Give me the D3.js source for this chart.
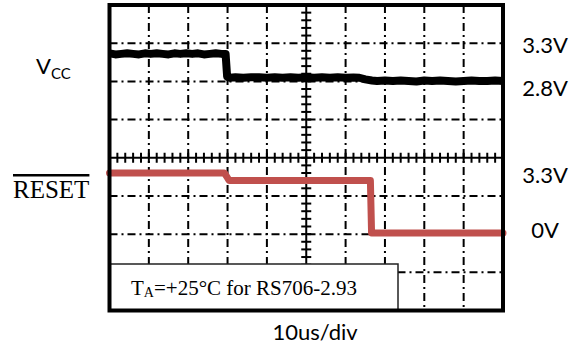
<!DOCTYPE html>
<html>
<head>
<meta charset="utf-8">
<script src="https://cdn.jsdelivr.net/npm/d3@7"></script>
<style>
  body { margin: 0; background: #fff; }
  svg { display: block; }
</style>
</head>
<body>
<svg id="chart" width="579" height="349"></svg>
<script>
// time base: 10 divisions of 10us
const timeTicks = [0, 10, 20, 30, 40, 50, 60, 70, 80, 90, 100];
const divTicks = [0, 1, 2, 3, 4, 5, 6, 7, 8];

// Vcc trace (us, V)
const vccTime = [0, 1.5, 3, 4.5, 6, 7.5, 9, 10.5, 12, 13.5, 15, 16.5, 18, 19.5, 21, 22.5, 24, 25.5, 27, 28.5, 29.5,
  29.9, 30.6, 32, 34, 36, 38, 40, 42, 44, 46, 48, 50, 52, 54, 56, 58, 60, 62, 63.5, 65, 66.7,
  68, 70, 72, 74, 76, 78, 80, 82, 84, 86, 88, 90, 92, 94, 96, 98, 100];
const vccVolts = [3.31, 3.29, 3.30, 3.31, 3.30, 3.29, 3.31, 3.30, 3.31, 3.30, 3.29, 3.31, 3.30, 3.31, 3.30, 3.31, 3.29, 3.30, 3.31, 3.30, 3.30,
  2.88, 2.86, 2.87, 2.86, 2.87, 2.87, 2.86, 2.87, 2.86, 2.87, 2.86, 2.87, 2.86, 2.87, 2.86, 2.87, 2.86, 2.865, 2.86, 2.83, 2.81,
  2.80, 2.81, 2.80, 2.81, 2.80, 2.79, 2.81, 2.80, 2.81, 2.80, 2.79, 2.80, 2.81, 2.80, 2.80, 2.81, 2.80];

// RESET trace (us, V)
const resetTime = [0, 29.2, 29.8, 30.4, 66.3, 66.6, 100];
const resetVolts = [3.30, 3.30, 3.10, 2.89, 2.89, 0.0, 0.0];

const vccLevels = ['3.3V', '2.8V'];
const vccLevelValues = [3.3, 2.8];
const resetLevels = ['3.3V', '0V'];
const resetLevelValues = [3.3, 0];

const svg = d3.select('#chart');
const pLeft = 109.5, pRight = 503, pTop = 5, pBottom = 310.5;

const x = d3.scaleLinear().domain([0, 100]).range([pLeft, pRight]);
const gy = d3.scaleLinear().domain([0, 8]).range([pBottom, pTop]);
// channel scales (volts -> px)
const yVcc = d3.scaleLinear().domain([2.8, 3.3]).range([gy(6.01), gy(6.72)]);
const yReset = d3.scaleLinear().domain([0, 3.3]).range([gy(2.03), gy(3.6)]);

const grid = svg.append('g').attr('class', 'grid');
const dash = '8,4,2,4';

grid.selectAll('line.v')
  .data(timeTicks.filter(t => t > 0 && t < 100 && t !== 50))
  .join('line')
  .attr('x1', d => x(d)).attr('x2', d => x(d))
  .attr('y1', pTop).attr('y2', pBottom)
  .attr('stroke', '#000').attr('stroke-width', 2)
  .attr('stroke-dasharray', dash);

grid.selectAll('line.h')
  .data(divTicks.filter(d => d > 0 && d < 8 && d !== 4))
  .join('line')
  .attr('x1', pLeft).attr('x2', pRight)
  .attr('y1', d => gy(d)).attr('y2', d => gy(d))
  .attr('stroke', '#000').attr('stroke-width', 2)
  .attr('stroke-dasharray', dash);

// center axes with minor ticks
const cx = x(50), cy = gy(4);
grid.append('line')
  .attr('x1', pLeft).attr('x2', pRight).attr('y1', cy).attr('y2', cy)
  .attr('stroke', '#000').attr('stroke-width', 2);
grid.append('line')
  .attr('x1', cx).attr('x2', cx).attr('y1', pTop).attr('y2', pBottom)
  .attr('stroke', '#000').attr('stroke-width', 2);

grid.selectAll('line.tx')
  .data(d3.range(2, 100, 2))
  .join('line')
  .attr('x1', d => x(d)).attr('x2', d => x(d))
  .attr('y1', cy - 5).attr('y2', cy + 5)
  .attr('stroke', '#000').attr('stroke-width', 2);

grid.selectAll('line.ty')
  .data(d3.range(0.2, 8, 0.2))
  .join('line')
  .attr('x1', cx - 5).attr('x2', cx + 5)
  .attr('y1', d => gy(d)).attr('y2', d => gy(d))
  .attr('stroke', '#000').attr('stroke-width', 2);

// traces
const vccData = vccTime.map((t, i) => ({ t: t, v: vccVolts[i] }));
const resetData = resetTime.map((t, i) => ({ t: t, v: resetVolts[i] }));

svg.append('path')
  .datum(vccData)
  .attr('fill', 'none')
  .attr('stroke', '#000')
  .attr('stroke-width', 8)
  .attr('stroke-linejoin', 'round')
  .attr('d', d3.line().x(d => x(d.t)).y(d => yVcc(d.v)));

svg.append('path')
  .datum(resetData)
  .attr('fill', 'none')
  .attr('stroke', '#C0504D')
  .attr('stroke-width', 7)
  .attr('stroke-linejoin', 'round')
  .attr('stroke-linecap', 'round')
  .attr('d', d3.line().x(d => x(d.t)).y(d => yReset(d.v)));

// condition box
const box = svg.append('g');
box.append('rect')
  .attr('x', pLeft).attr('y', 264)
  .attr('width', 398 - pLeft).attr('height', pBottom - 264)
  .attr('fill', '#fff').attr('stroke', '#222').attr('stroke-width', 1.5);
const boxText = box.append('text')
  .attr('x', 131).attr('y', 295)
  .attr('font-family', '"Liberation Serif", "Times New Roman", serif')
  .attr('font-size', 21).attr('fill', '#000');
boxText.append('tspan').text('T');
boxText.append('tspan').attr('font-size', 14).attr('dy', 2).text('A');
boxText.append('tspan').attr('dy', -2).text('=+25°C for RS706-2.93');

// frame
svg.append('rect')
  .attr('x', pLeft).attr('y', pTop)
  .attr('width', pRight - pLeft).attr('height', pBottom - pTop)
  .attr('fill', 'none').attr('stroke', '#000').attr('stroke-width', 4);

// labels
const sans = 'Lato, "Open Sans", sans-serif';
const vccLabel = svg.append('text')
  .attr('x', 36).attr('y', 74)
  .attr('font-family', sans).attr('font-size', 22);
vccLabel.append('tspan').text('V');
vccLabel.append('tspan').attr('font-size', 15).attr('dy', 5).text('CC');

svg.append('text')
  .attr('x', 13).attr('y', 198)
  .attr('font-family', '"Liberation Serif", "Times New Roman", serif')
  .attr('font-size', 25)
  .attr('text-decoration', 'overline')
  .text('RESET');

svg.selectAll('text.vcc')
  .data(vccLevels)
  .join('text')
  .attr('x', 545)
  .attr('y', (d, i) => yVcc(vccLevelValues[i]) + (i === 0 ? -1 : 15))
  .attr('text-anchor', 'middle')
  .attr('font-family', sans).attr('font-size', 22)
  .text(d => d);

svg.selectAll('text.rst')
  .data(resetLevels)
  .join('text')
  .attr('x', 545)
  .attr('y', (d, i) => yReset(resetLevelValues[i]) + (i === 0 ? 10 : 5))
  .attr('text-anchor', 'middle')
  .attr('font-family', sans).attr('font-size', 22)
  .text(d => d);

svg.append('text')
  .attr('x', 315).attr('y', 340)
  .attr('text-anchor', 'middle')
  .attr('font-family', sans).attr('font-size', 22)
  .text('10us/div');
</script>
</body>
</html>
